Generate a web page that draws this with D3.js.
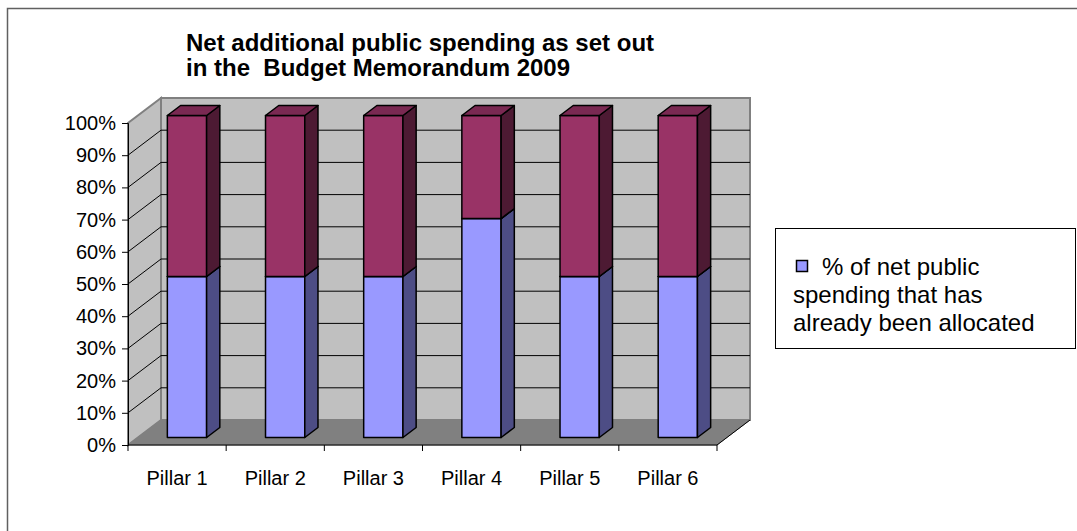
<!DOCTYPE html>
<html lang="en">
<head>
    <meta charset="UTF-8">
    <title>Net additional public spending</title>
    <script src="https://d3js.org/d3.v7.min.js"></script>
    <style>
        body { margin: 0; background: #fff; }
        .chart text { font-family: "Liberation Sans", Arial, sans-serif; fill: #000; }
        .title { font-weight: bold; font-size: 24px; }
        .axis text { font-size: 20px; }
        .legend text { font-size: 24px; }
    </style>
</head>
<body>
    <svg id="chart" class="chart" width="1077" height="531"></svg>

    <script>
        // Chart data
        const categories = ["Pillar 1", "Pillar 2", "Pillar 3", "Pillar 4", "Pillar 5", "Pillar 6"];
        const allocated = [50, 50, 50, 68, 50, 50];     // % already allocated (blue)
        const unallocated = [50, 50, 50, 32, 50, 50];   // rest (maroon)
        const yTickValues = [0, 10, 20, 30, 40, 50, 60, 70, 80, 90, 100];
        const titleLines = ["Net additional public spending as set out", "in the  Budget Memorandum 2009"];
        const legendLines = ["% of net public", "spending that has", "already been allocated"];

        const svg = d3.select("#chart");

        // outer frame (right/bottom edges run off the picture)
        svg.append("rect")
            .attr("x", 7.5).attr("y", 8.5)
            .attr("width", 1100).attr("height", 560)
            .attr("fill", "#fff").attr("stroke", "#606060").attr("stroke-width", 1.5);

        // 3D projection: front plane + depth offset
        const DX = 33, DY = 25;
        const x = d3.scaleBand().domain(categories).range([128, 717]).padding(0);
        const y = d3.scaleLinear().domain([0, 100]).range([445, 123]);
        const px = (xv, z) => xv + z * DX;
        const py = (yv, z) => yv - z * DY;
        const pt = (xv, yv, z) => [px(xv, z), py(yv, z)].join(",");

        const g = svg.append("g");

        // walls
        const x0 = x.range()[0], x1 = x.range()[1];
        g.append("polygon")   // side wall
            .attr("points", [pt(x0, y(0), 0), pt(x0, y(100), 0), pt(x0, y(100), 1), pt(x0, y(0), 1)].join(" "))
            .attr("fill", "#c0c0c0").attr("stroke", "#808080").attr("stroke-width", 2);
        g.append("polygon")   // back wall
            .attr("points", [pt(x0, y(0), 1), pt(x0, y(100), 1), pt(x1, y(100), 1), pt(x1, y(0), 1)].join(" "))
            .attr("fill", "#c0c0c0").attr("stroke", "#808080").attr("stroke-width", 2);

        // gridlines
        yTickValues.filter(d => d > 0 && d < 100).forEach(d => {
            g.append("polyline")
                .attr("points", [pt(x0, y(d), 0), pt(x0, y(d), 1), pt(x1, y(d), 1)].join(" "))
                .attr("fill", "none").attr("stroke", "#000").attr("stroke-width", 1);
        });

        // floor
        g.append("polygon")
            .attr("points", [pt(x0, y(0), 0), pt(x0, y(0), 1), pt(x1, y(0), 1), pt(x1, y(0), 0)].join(" "))
            .attr("fill", "#808080").attr("stroke", "#808080").attr("stroke-width", 1);
        g.append("line")
            .attr("x1", px(x1, 0)).attr("y1", py(y(0), 0))
            .attr("x2", px(x1, 1)).attr("y2", py(y(0), 1))
            .attr("stroke", "#000").attr("stroke-width", 1);

        // stacked bars
        const rows = categories.map((c, i) => ({ cat: c, allocated: allocated[i], unallocated: unallocated[i] }));
        const stack = d3.stack().keys(["allocated", "unallocated"]).offset(d3.stackOffsetExpand);
        const series = stack(rows);
        const colors = {
            allocated: { front: "#9999ff", side: "#4d4d85", top: "#7a7acc" },
            unallocated: { front: "#993366", side: "#4d1a33", top: "#7a2952" }
        };
        const z0 = 0.3, z1 = 0.7;
        const bw = x.bandwidth() * 0.4, bo = x.bandwidth() * 0.3;

        categories.forEach((c, i) => {
            const bar = g.append("g");
            series.forEach(s => {
                const seg = s[i];
                const xa = x(c) + bo, xb = xa + bw;
                const ya = y(seg[0] * 100), yb = y(seg[1] * 100);
                const col = colors[s.key];
                const face = (pts, fill) => bar.append("polygon")
                    .attr("points", pts.join(" "))
                    .attr("fill", fill).attr("stroke", "#000")
                    .attr("stroke-width", 1.5).attr("stroke-linejoin", "round");
                face([pt(xa, ya, z0), pt(xa, yb, z0), pt(xb, yb, z0), pt(xb, ya, z0)], col.front);
                face([pt(xb, ya, z0), pt(xb, yb, z0), pt(xb, yb, z1), pt(xb, ya, z1)], col.side);
                face([pt(xa, yb, z0), pt(xa, yb, z1), pt(xb, yb, z1), pt(xb, yb, z0)], col.top);
            });
        });

        // y axis
        const yAxis = d3.axisLeft(y)
            .tickValues(yTickValues)
            .tickFormat(d => d + "%")
            .tickSize(6).tickPadding(6);
        svg.append("g").attr("class", "axis")
            .attr("transform", `translate(${x0},0)`)
            .call(yAxis)
            .call(a => a.select(".domain").attr("stroke", "#000"));

        // x axis: labels at band centres, ticks at band edges
        const xAxis = d3.axisBottom(x).tickSize(0).tickPadding(26);
        const xa = svg.append("g").attr("class", "axis")
            .attr("transform", `translate(0,${y(0)})`)
            .call(xAxis);
        xa.select(".domain").attr("d", `M${x0},0H${x1}`).attr("stroke", "#000");
        xa.selectAll(".edge")
            .data(categories.map(c => x(c)).concat([x1]))
            .enter().append("line")
            .attr("class", "edge")
            .attr("x1", d => d).attr("x2", d => d)
            .attr("y1", 0).attr("y2", 6)
            .attr("stroke", "#000");

        // title
        svg.append("text").attr("class", "title")
            .selectAll("tspan").data(titleLines).enter().append("tspan")
            .attr("x", 186).attr("y", (d, i) => 51 + i * 25)
            .style("white-space", "pre")
            .text(d => d);

        // legend
        const lg = svg.append("g").attr("class", "legend");
        lg.append("rect")
            .attr("x", 775.5).attr("y", 228.5)
            .attr("width", 300).attr("height", 120)
            .attr("fill", "#fff").attr("stroke", "#000").attr("stroke-width", 1);
        lg.append("rect")
            .attr("x", 796.5).attr("y", 260.5)
            .attr("width", 11).attr("height", 11)
            .attr("fill", colors.allocated.front).attr("stroke", "#000").attr("stroke-width", 1.5);
        lg.append("text")
            .selectAll("tspan").data(legendLines).enter().append("tspan")
            .attr("x", (d, i) => i === 0 ? 822 : 793)
            .attr("y", (d, i) => 275 + i * 28)
            .text(d => d);
    </script>
</body>
</html>
